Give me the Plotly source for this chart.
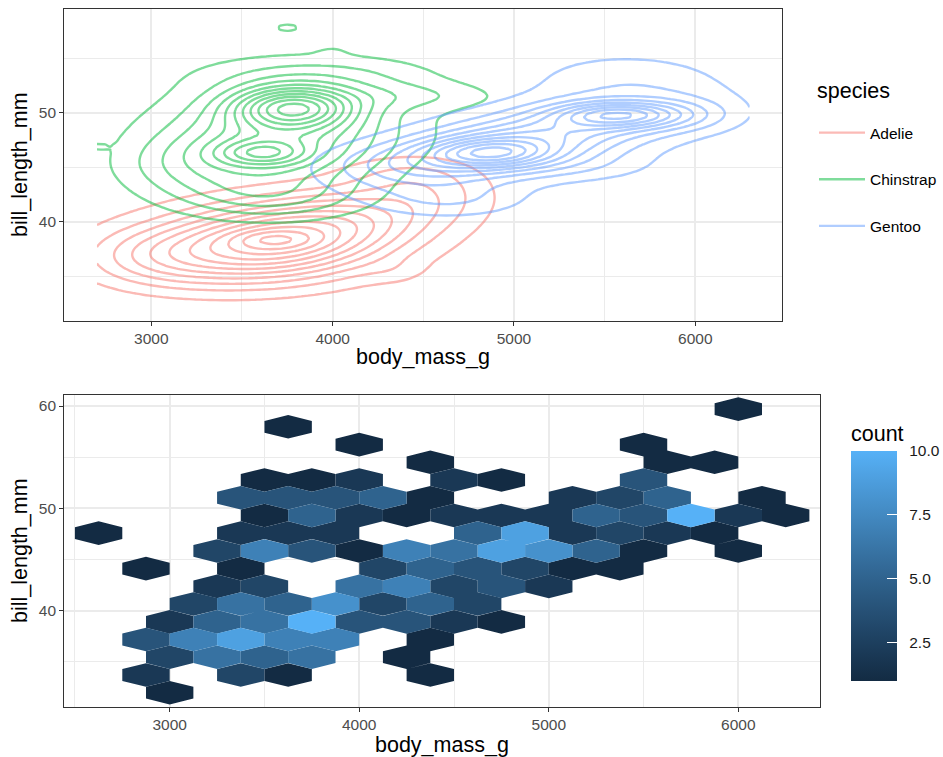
import numpy as np
import plotly.graph_objects as go

# ---------------- TOP PANEL DATA: density bumps read off the contour rings ----------------
# (centre, spread and height in contour-level units for each species)
species = ["Adelie", "Chinstrap", "Gentoo"]
species_colors = ["#F8766D", "#00BA38", "#619CFF"]

mass_limits = [2700, 6300]   # data range of body_mass_g
bill_limits = [32.1, 59.6]   # data range of bill_length_mm

adelie_cx = [3650, 3673, 4150, 4550, 3000, 3700, 4350, 4350]
adelie_cy = [38.0, 38.4, 40.5, 43.0, 36.8, 38.5, 44.5, 35.5]
adelie_sx = [420, 150, 350, 250, 280, 700, 250, 120]
adelie_sy = [2.3, 0.6, 2.0, 2.0, 1.8, 3.5, 1.2, 0.8]
adelie_rho = [0.2, 0.0, 0.2, 0.0, 0.0, 0.0, 0.0, 0.0]
adelie_h = [8.0, 1.5, 2.5, 1.5, 2.0, 1.2, 0.9, 0.5]

chinstrap_cx = [3783, 3609, 3680, 3750, 3950, 4450, 3150, 3750, 4000, 2700, 3650]
chinstrap_cy = [50.5, 46.3, 47.0, 48.5, 53.5, 51.5, 45.0, 57.8, 55.8, 46.9, 42.3]
chinstrap_sx = [230, 170, 380, 600, 450, 350, 250, 70, 80, 40, 350]
chinstrap_sy = [1.3, 0.8, 2.6, 4.0, 1.3, 0.9, 1.8, 0.4, 0.5, 0.3, 1.5]
chinstrap_rho = [0.0, 0.0, 0.15, 0.0, 0.0, 0.0, 0.0, 0.0, 0.0, 0.0, 0.0]
chinstrap_h = [7.9, 3.5, 4.5, 1.8, 1.5, 1.3, 1.2, 1.15, 0.4, 0.5, 2.5]

gentoo_cx = [4868, 5576, 5050, 5100, 5950, 5600, 4400, 4650, 5400]
gentoo_cy = [46.3, 49.8, 47.3, 47.5, 49.8, 53.3, 45.3, 42.0, 45.0]
gentoo_sx = [230, 230, 500, 800, 220, 380, 300, 300, 300]
gentoo_sy = [0.9, 0.8, 2.3, 3.5, 1.1, 1.8, 1.3, 1.2, 1.0]
gentoo_rho = [0.0, 0.0, 0.6, 0.5, 0.0, 0.0, 0.0, 0.0, 0.0]
gentoo_h = [4.6, 5.5, 5.0, 1.2, 1.3, 1.3, 1.5, 1.6, 0.8]

# ---------------- BOTTOM PANEL DATA: hexagon centres and counts ----------------
hex_x = [3000,
         2875, 3375, 3625, 4375,
         3000, 3250, 3500, 3750, 4250,
         2875, 3125, 3375, 3625, 3875, 4375,
         3000, 3250, 3500, 3750, 4000, 4250, 4500, 4750,
         3125, 3375, 3625, 3875, 4125, 4375, 4625,
         3250, 3500, 4000, 4250, 4500, 4750, 5000,
         2875, 3375, 4125, 4375, 4625, 4875, 5125, 5375,
         3250, 3500, 3750, 4000, 4250, 4500, 4750, 5000, 5250, 5500, 6000,
         2625, 3375, 3625, 3875, 4625, 4875, 5125, 5375, 5625, 5875,
         3500, 3750, 4000, 4250, 4500, 4750, 5000, 5250, 5500, 5750, 6000, 6250,
         3375, 3625, 3875, 4125, 4375, 5125, 5375, 5625, 6125,
         3500, 3750, 4000, 4500, 4750, 5500,
         4375, 5625, 5875,
         4000, 5500,
         3625,
         6000]
hex_y = [31.97,
         33.70, 33.70, 33.70, 33.70,
         35.44, 35.44, 35.44, 35.44, 35.44,
         37.17, 37.17, 37.17, 37.17, 37.17, 37.17,
         38.90, 38.90, 38.90, 38.90, 38.90, 38.90, 38.90, 38.90,
         40.64, 40.64, 40.64, 40.64, 40.64, 40.64, 40.64,
         42.37, 42.37, 42.37, 42.37, 42.37, 42.37, 42.37,
         44.10, 44.10, 44.10, 44.10, 44.10, 44.10, 44.10, 44.10,
         45.83, 45.83, 45.83, 45.83, 45.83, 45.83, 45.83, 45.83, 45.83, 45.83, 45.83,
         47.57, 47.57, 47.57, 47.57, 47.57, 47.57, 47.57, 47.57, 47.57, 47.57,
         49.30, 49.30, 49.30, 49.30, 49.30, 49.30, 49.30, 49.30, 49.30, 49.30, 49.30, 49.30,
         51.03, 51.03, 51.03, 51.03, 51.03, 51.03, 51.03, 51.03, 51.03,
         52.77, 52.77, 52.77, 52.77, 52.77, 52.77,
         54.50, 54.50, 54.50,
         56.23, 56.23,
         57.97,
         59.70]
hex_count = [1,
             2, 3, 1, 1,
             3, 6, 5, 6, 1,
             4, 7, 9, 7, 7, 1,
             2, 5, 6, 10, 4, 4, 2, 1,
             3, 6, 5, 8, 3, 5, 3,
             2, 3, 6, 7, 3, 4, 2,
             1, 1, 3, 5, 4, 3, 1, 1,
             3, 7, 4, 1, 7, 6, 9, 8, 5, 1, 1,
             1, 2, 2, 2, 5, 9, 2, 3, 2, 1,
             1, 5, 2, 1, 2, 2, 2, 5, 4, 10, 2, 1,
             4, 4, 4, 5, 1, 2, 3, 5, 1,
             1, 1, 2, 2, 1, 4,
             1, 1, 1,
             1, 1,
             1,
             1]
count_ticks = [2.5, 5.0, 7.5, 10.0]

# ---------------- styles / geometry ----------------
HEX_HALF_W = 125.0   # half hexagon width (g)
HEX_RY = 1.155       # hexagon circumradius in y units (mm)
FONT = "Liberation Sans, Arial, Helvetica, sans-serif"
LOW, HIGH = "#132B43", "#56B1F7"
FW, FH = 943, 757
NBSP = "\u00a0"


def xp(px):
    return px / FW


def yp(py):
    return 1 - py / FH


def hex_to_rgb(h):
    h = h.lstrip("#")
    return [int(h[i:i + 2], 16) for i in (0, 2, 4)]


def rgb_to_lab(rgb):
    c = np.array(rgb, dtype=float) / 255.0
    c = np.where(c <= 0.04045, c / 12.92, ((c + 0.055) / 1.055) ** 2.4)
    M = np.array([[0.4124, 0.3576, 0.1805], [0.2126, 0.7152, 0.0722], [0.0193, 0.1192, 0.9505]])
    xyz = M @ c / np.array([0.95047, 1.0, 1.08883])
    f = np.where(xyz > 0.008856, np.cbrt(xyz), 7.787 * xyz + 16 / 116)
    return np.array([116 * f[1] - 16, 500 * (f[0] - f[1]), 200 * (f[1] - f[2])])


def lab_to_rgb(lab):
    L, a, b = lab
    fy = (L + 16) / 116
    fx = fy + a / 500
    fz = fy - b / 200
    f = np.array([fx, fy, fz])
    xyz = np.where(f ** 3 > 0.008856, f ** 3, (f - 16 / 116) / 7.787) * np.array([0.95047, 1.0, 1.08883])
    Mi = np.array([[3.2406, -1.5372, -0.4986], [-0.9689, 1.8758, 0.0415], [0.0557, -0.2040, 1.0570]])
    c = Mi @ xyz
    c = np.where(c <= 0.0031308, 12.92 * c, 1.055 * np.clip(c, 0, None) ** (1 / 2.4) - 0.055)
    c = np.clip(np.round(c * 255), 0, 255).astype(int)
    return "#%02X%02X%02X" % tuple(c)


LAB_LO, LAB_HI = rgb_to_lab(hex_to_rgb(LOW)), rgb_to_lab(hex_to_rgb(HIGH))
CMIN, CMAX = min(hex_count), max(hex_count)


def count_color(v):
    t = (v - CMIN) / (CMAX - CMIN)
    return lab_to_rgb(LAB_LO + t * (LAB_HI - LAB_LO))


colorscale = [[i / 10, lab_to_rgb(LAB_LO + (i / 10) * (LAB_HI - LAB_LO))] for i in range(11)]

# ---------------- density grids on the data range (100 x 100, like kde2d) ----------------
gx = np.linspace(mass_limits[0], mass_limits[1], 100)
gy = np.linspace(bill_limits[0], bill_limits[1], 100)
GX, GY = np.meshgrid(gx, gy)


def surface(cx, cy, sx, sy, rho, h):
    Z = np.zeros_like(GX)
    for mx, my, s1, s2, r, hh in zip(cx, cy, sx, sy, rho, h):
        dx = (GX - mx) / s1
        dy = (GY - my) / s2
        q = (dx ** 2 - 2 * r * dx * dy + dy ** 2) / (1 - r ** 2)
        Z += hh * np.exp(-q / 2)
    return Z


dens = [
    surface(adelie_cx, adelie_cy, adelie_sx, adelie_sy, adelie_rho, adelie_h),
    surface(chinstrap_cx, chinstrap_cy, chinstrap_sx, chinstrap_sy, chinstrap_rho, chinstrap_h),
    surface(gentoo_cx, gentoo_cy, gentoo_sx, gentoo_sy, gentoo_rho, gentoo_h),
]

fig = go.Figure()

for sp, col, Z in zip(species, species_colors, dens):
    fig.add_trace(go.Contour(
        x=gx, y=gy, z=Z, autocontour=False,
        contours=dict(start=1, end=40, size=1, coloring="lines"),
        colorscale=[[0, col], [1, col]], showscale=False, opacity=0.5,
        line=dict(width=2.4, smoothing=1), hoverinfo="skip", showlegend=False,
        xaxis="x", yaxis="y"))

for sp, col in zip(species, species_colors):
    fig.add_trace(go.Scatter(
        x=[None], y=[None], mode="lines", name=sp, legendgroup=sp,
        line=dict(color=col, width=2.4), opacity=0.5, xaxis="x", yaxis="y"))

# ---------------- hexagons ----------------
for level in sorted(set(hex_count)):
    xs, ys = [], []
    for cx, cy, c in zip(hex_x, hex_y, hex_count):
        if c != level:
            continue
        xs += [cx, cx + HEX_HALF_W, cx + HEX_HALF_W, cx, cx - HEX_HALF_W, cx - HEX_HALF_W, cx, None]
        ys += [cy + HEX_RY, cy + HEX_RY / 2, cy - HEX_RY / 2, cy - HEX_RY,
               cy - HEX_RY / 2, cy + HEX_RY / 2, cy + HEX_RY, None]
    fig.add_trace(go.Scatter(
        x=xs, y=ys, mode="lines", fill="toself", fillcolor=count_color(level),
        line=dict(width=0, color=count_color(level)), hoverinfo="skip",
        showlegend=False, xaxis="x2", yaxis="y2"))

fig.add_trace(go.Scatter(
    x=hex_x, y=hex_y, mode="markers", showlegend=False, hoverinfo="skip",
    marker=dict(size=1, opacity=0, color=hex_count, colorscale=colorscale,
                cmin=CMIN, cmax=CMAX, showscale=True,
                colorbar=dict(
                    x=xp(851), xanchor="left", xpad=0,
                    y=yp(551.5), yanchor="middle", ypad=0,
                    len=259, lenmode="pixels", thickness=46, thicknessmode="pixels",
                    outlinewidth=0, tickmode="array", tickvals=count_ticks,
                    ticktext=[NBSP * 2 + "%.1f" % v for v in count_ticks],
                    ticks="inside", ticklen=10, tickcolor="white", tickwidth=1,
                    tickfont=dict(size=15.5, color="#1A1A1A", family=FONT),
                    title=dict(text="count", side="top", font=dict(size=21.5, color="black", family=FONT)))),
    xaxis="x2", yaxis="y2"))

axis_common = dict(
    ticks="outside", ticklen=4, tickwidth=1.1, tickcolor="#333333",
    tickfont=dict(size=15.5, color="#4D4D4D", family=FONT),
    showgrid=True, gridcolor="#EBEBEB", gridwidth=1.6,
    showline=True, mirror=True, linecolor="#333333", linewidth=1.3,
    zeroline=False, fixedrange=True)


def minor(d):
    return dict(dtick=d, tick0=0, showgrid=True, gridcolor="#EBEBEB", gridwidth=0.9)


def label(text, xpx, ypx, angle=0, anchor="center"):
    return dict(text=text, x=xp(xpx), y=yp(ypx), xref="paper", yref="paper",
                xanchor=anchor, yanchor="middle", showarrow=False, textangle=angle,
                font=dict(size=21.5, color="black", family=FONT))


fig.update_layout(
    width=FW, height=FH, autosize=False,
    margin=dict(l=0, r=0, t=0, b=0, pad=0, autoexpand=False),
    paper_bgcolor="white", plot_bgcolor="white",
    font=dict(family=FONT, color="black"),
    xaxis=dict(domain=[xp(64.3), xp(782.3)], range=[2520, 6480], anchor="y",
               tick0=0, dtick=1000, minor=minor(500), **axis_common),
    yaxis=dict(domain=[yp(320.7), yp(9)], range=[30.96, 59.5], anchor="x",
               tick0=0, dtick=10, minor=minor(5), **axis_common),
    xaxis2=dict(domain=[xp(64.3), xp(820)], range=[2444, 6431], anchor="y2",
                tick0=0, dtick=1000, minor=minor(500), **axis_common),
    yaxis2=dict(domain=[yp(706.7), yp(395)], range=[30.6, 61.08], anchor="x2",
                tick0=0, dtick=10, minor=minor(5), **axis_common),
    legend=dict(x=xp(814), y=yp(116), xanchor="left", yanchor="top",
                font=dict(size=15.5, color="black"), tracegroupgap=23.5, itemwidth=46,
                bgcolor="rgba(0,0,0,0)"),
    annotations=[
        label("species", 815, 91, anchor="left"),
        label("body_mass_g", 423.3, 357),
        label("bill_length_mm", 20, 165, angle=-90),
        label("body_mass_g", 442, 745),
        label("bill_length_mm", 20, 551, angle=-90),
    ],
)

fig.write_html(
    "out.html", config={"displayModeBar": False, "responsive": False},
    post_script="document.body.style.margin='0px';document.body.style.overflow='hidden';")
